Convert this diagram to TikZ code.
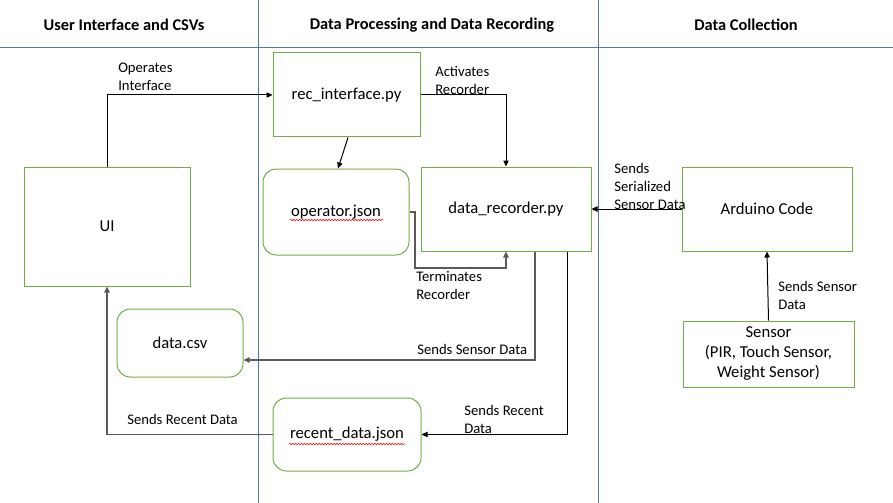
\documentclass[tikz,border=0pt]{standalone}
\usepackage{fontspec}
\setmainfont{Carlito}
\usetikzlibrary{calc,arrows.meta,decorations.pathmorphing}
\definecolor{boxgreen}{HTML}{70AD47}
\definecolor{laneblue}{HTML}{4F78A8}
\definecolor{wiregray}{HTML}{5A5A5A}
\tikzset{
	box/.style={draw=boxgreen, line width=0.75pt, inner sep=0pt, align=center, font=\fontsize{12.5}{15}\selectfont},
	roundbox/.style={box, rounded corners=10pt},
	sz/.style 2 args={minimum width=#1*0.75pt, minimum height=#2*0.75pt},
	lbl/.style={anchor=north west, inner sep=0pt, align=left, font=\fontsize{11}{13.5}\selectfont},
	head/.style={inner sep=0pt, font=\bfseries\fontsize{12.3}{15}\selectfont},
	lane/.style={draw=laneblue, line width=0.65pt},
	wire/.style={-{Triangle[length=4.5pt,width=4pt]}, line width=0.75pt},
	graywire/.style={wire, draw=wiregray, line width=1.3pt},
	spell/.style={red, line width=0.4pt, decorate, decoration={snake, amplitude=0.6pt, segment length=2.2pt}}
}

\begin{document}
\begin{tikzpicture}[x=0.75pt, y=-0.75pt]
			%%%%% START %%%%%
			\useasboundingbox (0,0) rectangle (893,503);
			
			% lanes
			\draw[lane] (0,47) -- (893,47);
			\draw[lane] (258,0) -- (258,503);
			\draw[lane] (598,0) -- (598,503);
			
			\node[head] (hui) at (124,25) {User Interface and CSVs};
			\node[head] (hproc) at (432,25) {Data Processing and Data Recording};
			\node[head] (hcol) at (746,25) {Data Collection};
			
			% boxes
			\node[box, sz={166}{119}] (ui) at (107,226.5) {UI};
			\node[box, sz={147}{84}] (rec) at (346.5,95) {rec\_interface.py};
			\node[roundbox, sz={146}{86}] (op) at (336,212) {operator.json};
			\node[box, sz={170}{84}] (rcd) at (506,209) {data\_recorder.py};
			\node[box, sz={170}{84}] (ard) at (767,209) {Arduino Code};
			\node[box, sz={171}{66}] (sen) at (768.5,354) {Sensor\\(PIR, Touch Sensor,\\Weight Sensor)};
			\node[roundbox, sz={126}{68}] (csv) at (180,343) {data.csv};
			\node[roundbox, sz={148}{73}] (rj) at (347,434.5) {recent\_data.json};
			
			\draw[spell] ($(op.center)+(-46,8)$) -- ++(93,0);
			\draw[spell] ($(rj.center)+(-58,9.5)$) -- ++(116,0);
			
			% connectors
			\draw[wire] (ui.north) |- (rec.west);
			\draw[wire] (rec.east) -| (rcd.north);
			\draw[wire] ($(rec.south)+(1.5,0)$) -- ($(op.north)+(2,0)$);
			\coordinate (term) at (415,268);
			\draw[graywire] (op.east) -| (term) -| (rcd.south);
			\draw[graywire] ($(rcd.south)+(29,0)$) |- ($(csv.east)+(0,17)$);
			\draw[wire] ($(rcd.south)+(61,0)$) |- (rj.east);
			\draw[wire] (ard.west) -- (rcd.east);
			\draw[wire] (sen.north) -- (ard.south);
			\draw[graywire] (rj.west) -| (ui.south);
			
			% labels
			\node[lbl] (l1) at (118,63) {Operates\\Interface};
			\node[lbl] (l2) at (435,66) {Activates\\Recorder};
			\node[lbl] (l3) at (614,163) {Sends\\Serialized\\Sensor Data};
			\node[lbl] (l4) at (416,271) {Terminates\\Recorder};
			\node[lbl] (l5) at (417,344) {Sends Sensor Data};
			\node[lbl] (l6) at (464,405) {Sends Recent\\Data};
			\node[lbl] (l7) at (778,281) {Sends Sensor\\Data};
			\node[lbl] (l8) at (127,414) {Sends Recent Data};
			%%%%% END %%%%%
\end{tikzpicture}
\end{document}
